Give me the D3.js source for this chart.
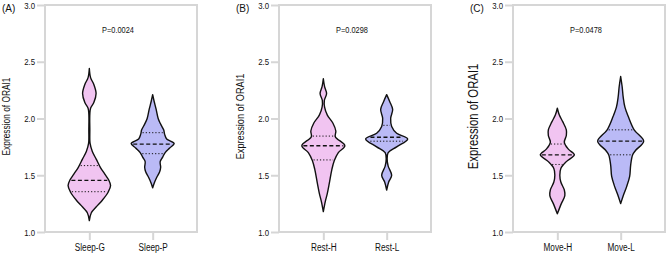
<!DOCTYPE html>
<html>
<head>
<meta charset="utf-8">
<script src="https://cdn.jsdelivr.net/npm/d3@7"></script>
<style>
  body { margin: 0; background: #fff; }
  text { font-family: "Liberation Sans", Arial, sans-serif; fill: #111; }
</style>
</head>
<body>
<svg id="chart" width="667" height="254"></svg>
<script>
// panel labels, p values, groups
var panelLabels = ["(A)", "(B)", "(C)"];
var pValues = ["P=0.0024", "P=0.0298", "P=0.0478"];
var groups = [["Sleep-G", "Sleep-P"], ["Rest-H", "Rest-L"], ["Move-H", "Move-L"]];
var yTicks = [1.0, 1.5, 2.0, 2.5, 3.0];

// density profiles: [expression, relative density]
var sleepG = [[2.44,0],[2.36,0.05],[2.30,0.18],[2.22,0.27],[2.14,0.18],[2.09,0.05],[2.04,0.02],[1.90,0.02],[1.78,0.03],[1.71,0.12],[1.64,0.28],[1.57,0.44],[1.51,0.62],[1.46,0.77],[1.41,0.85],[1.35,0.75],[1.28,0.52],[1.22,0.27],[1.17,0.08],[1.10,0]];
var sleepP = [[2.21,0],[2.15,0.06],[2.08,0.14],[2.00,0.22],[1.95,0.32],[1.90,0.44],[1.86,0.48],[1.82,0.56],[1.78,0.86],[1.74,0.68],[1.70,0.5],[1.66,0.4],[1.62,0.3],[1.57,0.32],[1.53,0.28],[1.48,0.16],[1.43,0.06],[1.39,0]];
var restH = [[2.35,0],[2.28,0.05],[2.22,0.13],[2.16,0.04],[2.10,0.05],[2.03,0.16],[1.96,0.38],[1.89,0.5],[1.84,0.48],[1.76,0.86],[1.70,0.6],[1.63,0.44],[1.55,0.34],[1.43,0.24],[1.34,0.16],[1.27,0.08],[1.18,0]];
var restL = [[2.21,0],[2.15,0.12],[2.08,0.24],[2.00,0.16],[1.93,0.2],[1.87,0.4],[1.82,0.84],[1.75,0.4],[1.70,0.06],[1.64,0.02],[1.58,0.06],[1.50,0.2],[1.44,0.08],[1.37,0]];
var moveH = [[2.09,0],[2.03,0.08],[1.97,0.22],[1.90,0.36],[1.85,0.36],[1.79,0.28],[1.73,0.44],[1.68,0.68],[1.62,0.36],[1.56,0.14],[1.50,0.1],[1.44,0.14],[1.37,0.28],[1.32,0.3],[1.25,0.16],[1.16,0]];
var moveL = [[2.37,0],[2.28,0.06],[2.19,0.1],[2.10,0.17],[2.02,0.3],[1.90,0.54],[1.80,0.92],[1.72,0.6],[1.68,0.48],[1.59,0.4],[1.49,0.36],[1.40,0.24],[1.33,0.12],[1.25,0]];

// quartiles [Q1, median, Q3]
var sleepGQ = [1.355, 1.455, 1.585];
var sleepPQ = [1.69, 1.775, 1.875];
var restHQ = [1.635, 1.76, 1.845];
var restLQ = [1.80, 1.835, 1.94];
var moveHQ = [1.595, 1.68, 1.775];
var moveLQ = [1.68, 1.80, 1.90];

var densities = [[sleepG, sleepP], [restH, restL], [moveH, moveL]];
var quartiles = [[sleepGQ, sleepPQ], [restHQ, restLQ], [moveHQ, moveLQ]];
var fills = ["#f1c4f1", "#babaf6"];

var svg = d3.select("#chart");
var frameLeft = [45, 279, 513];
var frameW = 152, plotTop = 5, plotBottom = 232;
var labelSize = [10.2, 11.2, 13.8];

var y = d3.scaleLinear().domain([1, 3]).range([plotBottom, plotTop]);
var w = d3.scaleLinear().domain([0, 1]).range([0, 25]);

// squeeze text horizontally, the source font is a narrow helvetica
function narrow(sel) {
  sel.each(function() {
    var len = this.getComputedTextLength();
    d3.select(this).attr("textLength", len * 0.82).attr("lengthAdjust", "spacingAndGlyphs");
  });
}

panelLabels.forEach(function(lab, i) {
  var g = svg.append("g").attr("transform", "translate(" + frameLeft[i] + ",0)");
  var x = d3.scalePoint().domain(groups[i]).range([0, frameW]).padding(0.7);

  g.append("rect")
    .attr("x", 0).attr("y", plotTop)
    .attr("width", frameW).attr("height", plotBottom - plotTop)
    .attr("fill", "none").attr("stroke", "#d6d6d6").attr("stroke-width", 2);

  var ya = g.append("g").call(d3.axisLeft(y).tickValues(yTicks).tickFormat(d3.format(".1f")).tickSize(8).tickPadding(2));
  ya.select(".domain").remove();
  ya.selectAll("line").attr("stroke", "#d6d6d6").attr("stroke-width", 2);
  ya.selectAll("text").style("font-size", "9.5px").attr("fill", "#111").call(narrow);

  var xa = g.append("g").attr("transform", "translate(0," + plotBottom + ")")
    .call(d3.axisBottom(x).tickSize(8).tickPadding(4));
  xa.select(".domain").remove();
  xa.selectAll("line").attr("stroke", "#d6d6d6").attr("stroke-width", 2);
  xa.selectAll("text").style("font-size", "10px").attr("fill", "#111").call(narrow);

  g.append("text")
    .attr("transform", "translate(-35," + ((plotTop + plotBottom) / 2 - 2) + ") rotate(-90)")
    .attr("text-anchor", "middle")
    .style("font-size", labelSize[i] + "px")
    .text("Expression of ORAI1")
    .call(narrow);

  g.append("text")
    .attr("x", -43).attr("y", 12)
    .style("font-size", "10px")
    .text(lab);

  g.append("text")
    .attr("x", frameW / 2 - 3).attr("y", 33)
    .attr("text-anchor", "middle")
    .style("font-size", "9px")
    .text(pValues[i])
    .call(narrow);

  groups[i].forEach(function(name, j) {
    var cx = x(name);
    var prof = densities[i][j];
    var area = d3.area()
      .curve(d3.curveCatmullRom.alpha(0.5))
      .y(function(d) { return y(d[0]); })
      .x0(function(d) { return cx - w(d[1]); })
      .x1(function(d) { return cx + w(d[1]); });

    g.append("path")
      .datum(prof)
      .attr("d", area)
      .attr("fill", fills[j])
      .attr("stroke", "#111")
      .attr("stroke-width", 1.4)
      .attr("stroke-linejoin", "round");

    var widthAt = d3.scaleLinear()
      .domain(prof.map(function(d) { return d[0]; }))
      .range(prof.map(function(d) { return d[1]; }));

    quartiles[i][j].forEach(function(q, k) {
      var hw = w(widthAt(q)) - 1.5;
      g.append("line")
        .attr("x1", cx - hw).attr("x2", cx + hw)
        .attr("y1", y(q)).attr("y2", y(q))
        .attr("stroke", "#111")
        .attr("stroke-width", k === 1 ? 1.3 : 1)
        .attr("stroke-dasharray", k === 1 ? "4,2.5" : "1.2,2");
    });
  });
});
</script>
</body>
</html>
